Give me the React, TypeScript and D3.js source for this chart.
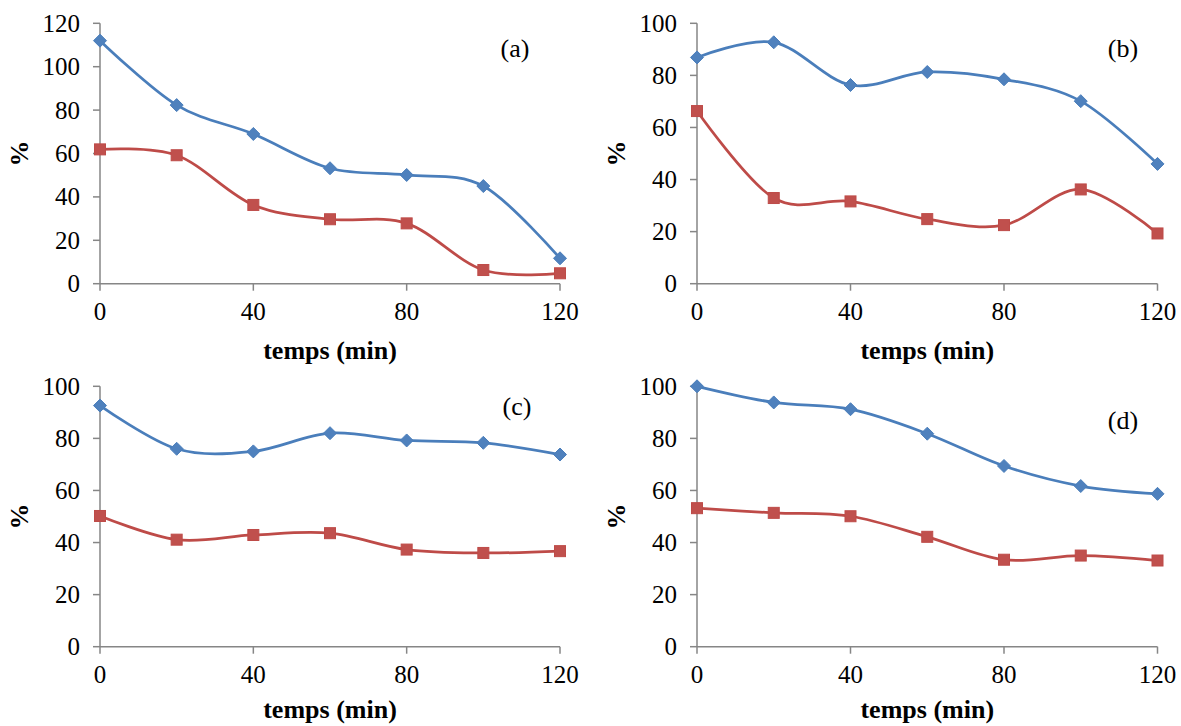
import React from "react";
import * as d3 from "d3";

const times = [0, 20, 40, 60, 80, 100, 120];
const xTicks = [0, 40, 80, 120];

const blueA = [112, 82.3, 69, 53.2, 50.1, 45, 11.7];
const redA = [61.9, 59.2, 36.3, 29.7, 27.8, 6.3, 4.8];
const blueB = [86.9, 92.7, 76.3, 81.3, 78.5, 70.1, 46];
const redB = [66.3, 32.9, 31.6, 24.8, 22.5, 36.2, 19.3];
const blueC = [92.6, 76, 75, 82, 79.2, 78.3, 73.8];
const redC = [50.2, 41.1, 42.9, 43.6, 37.3, 36, 36.7];
const blueD = [100, 93.8, 91.2, 81.8, 69.4, 61.7, 58.7];
const redD = [53.2, 51.4, 50.1, 42.2, 33.4, 35, 33.1];

const yTicksA = [0, 20, 40, 60, 80, 100, 120];
const yTicksBCD = [0, 20, 40, 60, 80, 100];
const panelLabels = ["(a)", "(b)", "(c)", "(d)"];
const xTitle = "temps (min)";
const yTitle = "%";

const BLUE_LINE = "#4A7EBB";
const BLUE_MARK = "#4F81BD";
const RED_LINE = "#BE4B48";
const RED_MARK = "#C0504D";
const AXIS = "#868686";
const FONT = "'Liberation Serif', 'Times New Roman', serif";

type Panel = {
  blue: number[];
  red: number[];
  yTicks: number[];
  yMax: number;
  x0: number;
  x1: number;
  yBottom: number;
  yTop: number;
  label: string;
  labelX: number;
  labelY: number;
  titleOffset: number;
};

const panels: Panel[] = [
  { blue: blueA, red: redA, yTicks: yTicksA, yMax: 120, x0: 100, x1: 560, yBottom: 283.7, yTop: 23.3, label: panelLabels[0], labelX: 515, labelY: 57, titleOffset: 75 },
  { blue: blueB, red: redB, yTicks: yTicksBCD, yMax: 100, x0: 697, x1: 1157.5, yBottom: 283.7, yTop: 23.3, label: panelLabels[1], labelX: 1123, labelY: 57, titleOffset: 75 },
  { blue: blueC, red: redC, yTicks: yTicksBCD, yMax: 100, x0: 100, x1: 560, yBottom: 646.7, yTop: 386.3, label: panelLabels[2], labelX: 517, labelY: 415, titleOffset: 71.5 },
  { blue: blueD, red: redD, yTicks: yTicksBCD, yMax: 100, x0: 697, x1: 1157.5, yBottom: 646.7, yTop: 386.3, label: panelLabels[3], labelX: 1123, labelY: 429, titleOffset: 71.5 },
];

const textStyle = { fontFamily: FONT };

function ChartPanel({ p }: { p: Panel }) {
  const x = d3.scaleLinear().domain([0, 120]).range([p.x0, p.x1]);
  const y = d3.scaleLinear().domain([0, p.yMax]).range([p.yBottom, p.yTop]);
  const line = d3
    .line<number>()
    .x((_, i) => x(times[i]))
    .y((v) => y(v))
    .curve(d3.curveCardinal.tension(0));
  const diamond = (cx: number, cy: number, r: number) =>
    `M${cx},${cy - r}L${cx + r},${cy}L${cx},${cy + r}L${cx - r},${cy}Z`;
  const midX = (p.x0 + p.x1) / 2;
  const midY = (p.yBottom + p.yTop) / 2;
  return (
    <g>
      <line x1={p.x0} x2={p.x0} y1={p.yTop} y2={p.yBottom} stroke={AXIS} strokeWidth={1.5} />
      <line x1={p.x0} x2={p.x1} y1={p.yBottom} y2={p.yBottom} stroke={AXIS} strokeWidth={1.5} />
      {p.yTicks.map((t) => (
        <g key={"y" + t}>
          <line x1={p.x0 - 7} x2={p.x0} y1={y(t)} y2={y(t)} stroke={AXIS} strokeWidth={1.5} />
          <text x={p.x0 - 20} y={y(t) + 8.5} textAnchor="end" style={textStyle} fontSize={25} fill="#000">
            {t}
          </text>
        </g>
      ))}
      {xTicks.map((t) => (
        <g key={"x" + t}>
          <line x1={x(t)} x2={x(t)} y1={p.yBottom} y2={p.yBottom + 7} stroke={AXIS} strokeWidth={1.5} />
          <text x={x(t)} y={p.yBottom + 36} textAnchor="middle" style={textStyle} fontSize={25} fill="#000">
            {t}
          </text>
        </g>
      ))}
      <text x={midX} y={p.yBottom + p.titleOffset} textAnchor="middle" style={textStyle} fontSize={26} fontWeight="bold" fill="#000">
        {xTitle}
      </text>
      <text
        transform={`translate(${p.x0 - 72},${midY}) rotate(-90)`}
        textAnchor="middle"
        style={textStyle}
        fontSize={26}
        fontWeight="bold"
        fill="#000"
      >
        {yTitle}
      </text>
      <text x={p.labelX} y={p.labelY} textAnchor="middle" style={textStyle} fontSize={26} fill="#000">
        {p.label}
      </text>
      <path d={line(p.blue) || ""} fill="none" stroke={BLUE_LINE} strokeWidth={2.75} />
      <path d={line(p.red) || ""} fill="none" stroke={RED_LINE} strokeWidth={2.75} />
      {p.blue.map((v, i) => (
        <path key={"b" + i} d={diamond(x(times[i]), y(v), 6.5)} fill={BLUE_MARK} stroke={BLUE_LINE} strokeWidth={1} />
      ))}
      {p.red.map((v, i) => (
        <rect key={"r" + i} x={x(times[i]) - 5.5} y={y(v) - 5.5} width={11} height={11} fill={RED_MARK} stroke={RED_LINE} strokeWidth={1} />
      ))}
    </g>
  );
}

export default function App() {
  return (
    <svg
      width={1181}
      height={726}
      style={{ position: "absolute", left: 0, top: 0, background: "#fff", fontFamily: FONT }}
    >
      <rect width={1181} height={726} fill="#fff" />
      {panels.map((p, i) => (
        <ChartPanel key={i} p={p} />
      ))}
    </svg>
  );
}
